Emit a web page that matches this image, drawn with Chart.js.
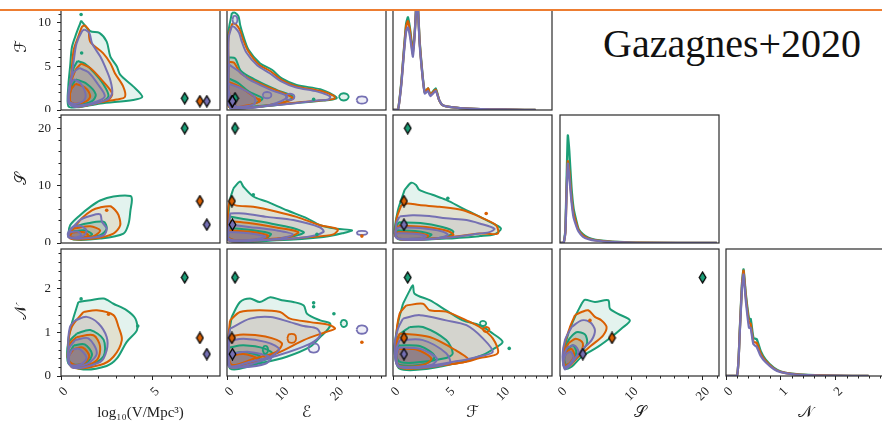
<!DOCTYPE html>
<html><head><meta charset="utf-8">
<script src="https://cdn.jsdelivr.net/npm/chart.js@4/dist/chart.umd.min.js"></script>
<style>
html,body{margin:0;padding:0;background:#fff;width:882px;height:422px;overflow:hidden;position:relative}
canvas{position:absolute;z-index:1}
#mask{position:absolute;left:0;top:0;width:882px;height:9px;background:#fff;z-index:5}
#bar{position:absolute;left:0;top:9px;width:882px;height:2px;background:#ED7D31;z-index:6}
#ttl{position:absolute;left:603px;top:24px;font-family:"Liberation Serif","DejaVu Serif",serif;font-size:40px;line-height:40px;color:#111;z-index:4;white-space:nowrap}
</style></head><body>
<div id="mask"></div><div id="bar"></div><div id="ttl">Gazagnes+2020</div>
<script>
// ---------------- data ----------------
const vTicks=[0,5], eTicks=[0,10,20], fTicks=[0,5,10], sTicks=[0,10,20], nTicks=[0,1,2];
const vMinor=[1,2,3,4,6,7,8], eMinor=[2,4,6,8,12,14,16,18,22,24,26,28];
const fMinor=[1,2,3,4,6,7,8,9,11,12,13,14], sMinor=[2,4,6,8,12,14,16,18,22];
const nMinor=[0.2,0.4,0.6,0.8,1.2,1.4,1.6,1.8,2.2,2.4,2.6,2.8];
// truth markers: [green, orange, purple]
const truthV=[6.77,7.6,7.98], truthE=[1.46,0.9,1.0], truthF=[1.34,1.0,1.0], truthS=[20.0,7.3,3.2], truthN=[2.25,0.87,0.5];

// contours, each colour: [outer, mid, inner] as flat x,y lists
const VF_green=[[1.1,10.2,1.6,9.0,2.1,8.8,2.5,7.8,2.7,6.1,3.05,5.0,3.25,4.0,3.95,2.7,4.45,1.5,3.95,1.15,2.15,0.75,0.85,0.3,0.4,0.45,0.4,2.7,0.5,5.0,0.6,7.2,0.85,8.8,1.05,9.9],
 [0.9,5.6,1.3,5.3,1.8,4.3,2.3,3.0,2.6,1.6,2.2,0.9,1.0,0.45,0.5,0.7,0.5,3.0,0.7,4.8],
 [0.8,3.5,1.4,3.0,1.9,1.8,1.7,1.0,0.9,0.6,0.5,1.0,0.55,2.5]];
const VF_orange=[[1.3,9.7,1.5,9.2,1.6,7.8,2.3,6.5,2.7,5.35,2.95,4.2,3.4,2.7,3.5,1.5,3.05,1.2,2.15,0.9,0.85,0.35,0.5,0.95,0.6,5.0,0.7,6.9,0.95,8.4,1.15,9.5],
 [1.1,5.3,1.6,4.8,2.2,3.5,2.8,1.9,2.6,1.2,1.0,0.45,0.5,0.8,0.55,3.0,0.8,4.6],
 [0.8,3.0,1.3,2.6,1.6,1.6,1.4,1.0,0.8,0.7,0.5,1.0,0.55,2.3]];
const VF_purple=[[1.3,9.2,1.55,8.8,1.7,7.6,2.15,6.1,2.4,5.0,2.7,3.4,2.8,1.9,2.5,1.15,0.85,0.35,0.4,0.8,0.5,2.7,0.7,5.7,0.85,7.6,1.15,9.0],
 [1.0,4.8,1.5,4.3,2.0,3.0,2.4,1.6,2.0,1.0,1.0,0.5,0.45,0.8,0.5,3.0,0.7,4.3],
 [0.7,3.5,1.0,3.2,1.3,2.2,1.3,1.2,0.8,0.7,0.45,1.0,0.45,2.6]];
const VF_dots=[[1.1,10.9,0],[1.13,6.5,0]];

const EF_green=[[0.9,11.1,1.5,11.1,2.1,10.7,2.4,9.7,3.0,8.4,3.9,6.9,6.0,5.35,8.2,4.6,10.0,3.6,12.7,2.86,17,2.37,19.4,1.7,20,1.34,17.6,1.07,12.1,0.77,6.0,0.38,0.55,0.19,0.24,5.0,0.24,8.8],
 [0.3,6.0,1.5,5.9,2.5,4.5,5,3.5,9,2.3,12,1.5,10,0.8,5,0.4,0.5,0.3,0.2,3],
 [0.3,3.6,2,3.1,4,2.1,6.5,1.3,4,0.5,0.5,0.3,0.2,1.5]];
const EF_orange=[[1.0,9.9,1.6,9.8,2.3,9.2,2.9,8.1,3.8,6.8,5.8,5.2,8.0,4.4,10.0,3.4,12.7,2.7,17,2.2,19.5,1.6,19.6,1.3,17.5,1.1,12,0.8,6,0.4,0.6,0.22,0.3,5.0,0.3,8.5],
 [0.3,5.5,1.3,5.4,2.5,4.2,6,3.0,10,2.0,12,1.3,8,0.6,2,0.3,0.2,2.5],
 [0.3,3.2,2.2,2.7,4.5,1.7,6,1.0,3,0.45,0.4,0.35,0.2,1.5]];
const EF_purple=[[0.9,9.6,1.5,9.4,2.2,8.8,2.7,7.8,3.5,6.6,5.5,5.1,7.8,4.2,9.8,3.3,12.5,2.6,16.5,2.1,18.8,1.55,18.5,1.2,16.8,1.1,12,0.75,6,0.4,0.6,0.22,0.3,5.0,0.3,8.2],
 [0.3,5.2,2,4.5,4,3.5,8,2.3,11,1.5,8,0.6,2,0.3,0.2,2.5],
 [0.3,3.0,2.5,2.5,5,1.5,5,0.7,2,0.35,0.2,0.6]];
const EF_rings=[[0,[20.4,1.5,20.8,1.85,21.8,1.85,22.2,1.5,21.8,1.15,20.8,1.15]],
 [2,[23.6,1.15,24.0,1.5,25.2,1.5,25.6,1.15,25.2,0.8,24.0,0.8]],
 [2,[1.0,10.3,1.2,10.7,1.7,10.7,1.9,10.3,1.7,9.9,1.2,9.9]],
 [2,[6.5,1.7,6.8,2.0,7.8,2.0,8.1,1.7,7.8,1.4,6.8,1.4]],
 [2,[10.7,1.5,11.0,1.8,12.0,1.8,12.3,1.5,12.0,1.2,11.0,1.2]]];
const EF_dots=[[15.8,1.22,0],[5.9,1.15,1]];

const VS_green=[[0.4,1.35,0.5,3.1,1.04,4.85,1.6,6.3,2.14,7.4,2.87,8.1,3.8,8.2,3.88,7.5,3.8,5.7,3.7,3.4,3.42,1.65,2.14,0.77,0.68,0.6],
 [0.68,2.8,1.4,3.4,2.33,3.7,2.5,2.5,2.14,1.35,0.68,0.8,0.4,1.5],
 [0.6,2.0,1.3,2.2,1.7,1.5,1.2,0.9,0.5,1.0]];
const VS_orange=[[0.59,2.2,1.14,4.3,1.69,5.7,2.14,6.2,2.7,6.4,2.97,5.7,3.15,4.85,3.24,3.1,2.87,1.65,1.78,0.77,0.5,0.77],
 [0.68,2.5,1.6,2.9,2.14,2.2,1.78,1.2,0.6,0.8,0.4,1.5],
 [0.6,1.8,1.2,1.9,1.5,1.3,1.0,0.9,0.5,1.1]];
const VS_purple=[[0.5,2.2,1.04,4.0,1.6,4.7,2.14,5.0,2.24,3.7,2.5,2.5,2.33,1.35,1.14,0.77,0.4,1.0],
 [0.6,2.8,1.04,3.0,1.4,2.2,1.2,1.2,0.5,0.9,0.37,1.6],
 [0.5,1.9,0.9,2.0,1.1,1.4,0.8,0.95,0.4,1.2]];
const VS_dots=[[2.5,5.7,1]];

const ES_green=[[1.16,9.5,2.4,10.7,3.0,9.8,4.8,8.1,7.3,7.2,10.9,5.7,14.6,4.3,17,3.1,20,2.5,22.8,2.2,21.3,1.75,17.6,1.05,9.1,0.47,0.55,0.35,0.24,3.4,0.55,7.5],
 [0.5,4.6,3,4.2,8,3.4,12,2.6,14,1.8,10,0.8,3,0.4,0.3,0.6,0.2,2.5],
 [0.4,2.6,4,2.3,8,1.6,7,0.8,2,0.45,0.2,1.0]];
const ES_orange=[[0.55,7.5,1.46,6.6,4.8,6.3,9.1,5.45,12.7,4.55,17,3.1,20.2,2.4,19.4,1.5,15.2,1.05,6.0,0.47,0.24,0.47,0.24,6.1],
 [0.5,3.8,4,3.5,9,2.7,13,1.9,11,1.0,4,0.5,0.3,0.6,0.2,2.0],
 [0.4,2.2,4,2.0,7.5,1.3,6,0.65,2,0.45,0.2,1.0]];
const ES_purple=[[0.55,5.15,3.0,5.15,7.3,4.55,12.1,4.0,17,2.7,17.6,1.93,14.6,1.05,6.0,0.47,0.24,0.47],
 [0.5,3.2,4,2.8,9,2.2,12,1.5,9,0.7,3,0.45,0.3,0.6,0.2,2.0],
 [0.4,1.9,4,1.7,7,1.1,5,0.6,1.5,0.45,0.2,0.9]];
const ES_rings=[[2,[23.6,1.75,24.0,2.05,25.2,2.05,25.6,1.75,25.2,1.45,24.0,1.45]]];
const ES_dots=[[16.4,1.5,0],[4.8,8.4,0],[24.6,1.2,1]];

const FS_green=[[1.06,9.25,1.67,10.5,2.1,10.1,2.4,9.25,3.6,8.4,4.85,7.5,6.4,6.0,7.9,4.6,9.1,3.4,9.85,2.5,9.25,1.5,7.9,1.2,4.85,0.77,0.6,0.6,0.15,1.65,0.45,5.7],
 [0.5,3.6,2.5,3.5,4.5,2.8,5.5,2.0,5,1.2,3,0.7,0.5,0.7,0.2,2],
 [0.4,2.2,2,2.1,3.5,1.5,3,0.9,0.5,0.75,0.2,1.4]];
const FS_orange=[[0.76,6.6,1.36,6.9,2.4,6.6,4.25,6.3,6.4,5.7,8.2,4.3,9.4,3.1,9.55,1.65,7.9,1.65,4.85,0.97,0.45,0.77,0.3,4.0],
 [0.5,3.0,3,2.8,5,2.1,5.5,1.4,4,0.8,0.5,0.7,0.2,2],
 [0.4,1.9,2,1.8,3.2,1.3,2.6,0.85,0.5,0.75,0.2,1.3]];
const FS_purple=[[0.6,4.6,1.8,4.85,3.3,4.7,4.85,4.3,6.7,4.0,7.9,3.4,9.25,2.5,8.8,1.9,7.3,1.5,4.85,0.9,0.45,0.77,0.3,3.4],
 [0.5,2.7,2.5,2.6,4.5,2.0,5,1.4,4,0.8,0.5,0.7,0.2,2],
 [0.4,1.7,2,1.6,3,1.2,2.5,0.85,0.5,0.75,0.2,1.2]];
const FS_dots=[[5.0,7.8,0],[8.5,5.15,1]];

const VN_green=[[0.95,1.69,1.6,1.73,2.33,1.77,2.87,1.65,3.6,1.5,4.07,1.31,4.16,1.05,3.6,0.78,3.06,0.4,2.5,0.23,1.22,0.15,0.4,0.29,0.4,0.82,0.59,1.2],
 [0.86,0.97,1.6,1.05,2.33,0.83,2.33,0.45,1.6,0.26,0.5,0.3,0.4,0.74],
 [0.7,0.7,1.3,0.72,1.7,0.5,1.4,0.3,0.6,0.27,0.4,0.45]];
const VN_orange=[[1.22,1.46,1.96,1.5,2.87,1.39,3.15,1.12,3.33,0.82,2.87,0.44,2.14,0.25,0.59,0.2,0.4,0.67,0.59,1.12],
 [0.86,0.89,1.78,0.93,2.14,0.67,1.96,0.36,1.04,0.22,0.4,0.36,0.5,0.74],
 [0.7,0.62,1.2,0.65,1.55,0.45,1.2,0.28,0.55,0.26,0.4,0.42]];
const VN_purple=[[0.77,1.27,1.4,1.35,2.05,1.2,2.5,0.89,2.5,0.59,2.14,0.32,0.59,0.2,0.4,0.67,0.49,1.12],
 [0.77,0.82,1.5,0.86,1.96,0.52,1.4,0.27,0.5,0.25,0.4,0.59],
 [0.6,0.6,1.0,0.62,1.4,0.42,1.1,0.27,0.5,0.25,0.4,0.4]];
const VN_dots=[[1.1,1.76,0],[2.6,1.41,1],[4.2,1.14,0]];

const EN_green=[[0.86,1.35,2.38,1.69,4.2,1.77,6.0,1.69,7.9,1.8,10.0,1.73,12.1,1.69,14,1.61,14.6,1.42,17,1.27,18.8,1.2,18.5,1.08,17,0.89,15.2,0.67,10.9,0.44,6.0,0.29,0.55,0.17,0.24,0.82],
 [0.4,0.65,3,0.7,7,0.62,8.5,0.48,6,0.33,2,0.22,0.3,0.3],
 [0.4,0.5,3,0.55,6,0.45,5,0.3,2,0.2,0.3,0.25]];
const EN_orange=[[0.55,1.27,2.38,1.46,6.0,1.5,9.7,1.46,11.5,1.31,15.2,1.23,18.8,1.16,19.7,1.08,17.9,1.0,14,0.82,9.1,0.52,0.55,0.2,0.24,0.82],
 [0.4,0.9,3,0.95,7,0.9,10,0.75,9,0.55,5,0.4,1,0.25,0.3,0.45],
 [0.4,0.45,3,0.5,5.5,0.4,4.5,0.28,1.5,0.2,0.3,0.25]];
const EN_purple=[[0.55,1.08,4.2,1.31,7.9,1.35,11.5,1.23,14,1.14,16.4,1.08,17,0.93,15.2,0.74,9.5,0.48,0.55,0.2,0.24,0.74],
 [0.4,0.8,3,0.85,7,0.78,9.5,0.62,8,0.45,4,0.32,0.8,0.22,0.3,0.4],
 [0.4,0.5,4,0.55,8,0.42,7,0.28,3,0.2,0.3,0.22]];
const EN_rings=[[1,[11.0,0.86,11.3,0.95,12.3,0.95,12.6,0.86,12.3,0.77,11.3,0.77]],
 [2,[23.6,1.06,24.0,1.14,25.2,1.14,25.6,1.06,25.2,0.98,24.0,0.98]],
 [0,[20.7,1.2,21.0,1.27,21.6,1.27,21.9,1.2,21.6,1.13,21.0,1.13]],
 [2,[14.8,0.64,15.2,0.73,16.4,0.73,16.8,0.64,16.4,0.55,15.2,0.55]],
 [0,[6.5,0.6,6.75,0.68,7.25,0.68,7.5,0.6,7.25,0.52,6.75,0.52]]];
const EN_dots=[[24.6,0.77,1],[15.8,1.67,0],[15.8,1.58,0],[19.5,1.42,0]];

const FN_green=[[0.91,1.65,1.52,1.95,1.82,2.07,1.97,1.88,3.34,1.73,4.85,1.5,6.36,1.27,7.9,1.16,9.1,0.97,10.0,0.78,9.25,0.63,8.2,0.48,6.36,0.33,3.34,0.17,0.6,0.17,0.15,0.59,0.45,1.2],
 [1.52,1.12,2.73,1.12,4.85,0.82,5.45,0.52,4.85,0.41,1.8,0.3,0.45,0.36,0.45,0.89],
 [0.5,0.7,2.5,0.68,3.8,0.45,3,0.28,0.6,0.25,0.3,0.45]];
const FN_orange=[[1.21,1.61,2.73,1.65,3.34,1.5,4.85,1.47,6.7,1.27,7.9,1.12,9.1,0.86,9.55,0.52,7.9,0.41,6.36,0.31,0.6,0.2,0.3,0.82,0.6,1.42],
 [0.6,0.97,3.34,0.89,5.7,0.59,6.9,0.36,4.85,0.26,0.6,0.2,0.3,0.67],
 [0.5,0.62,2.2,0.6,3.5,0.4,2.8,0.26,0.6,0.23,0.3,0.42]];
const FN_purple=[[0.91,1.31,2.43,1.39,4.85,1.27,6.7,1.16,8.2,0.86,9.1,0.55,7.9,0.45,6.36,0.36,0.6,0.2,0.15,0.67,0.45,1.08],
 [0.6,0.82,2.73,0.82,4.85,0.52,5.15,0.29,0.6,0.21,0.3,0.59],
 [0.5,0.65,2.5,0.62,4,0.4,3.5,0.25,0.6,0.22,0.3,0.4]];
const FN_rings=[[1,[8.2,1.06,8.35,1.11,8.65,1.11,8.8,1.06,8.65,1.01,8.35,1.01]],
 [0,[7.9,1.2,8.05,1.25,8.35,1.25,8.5,1.2,8.35,1.15,8.05,1.15]]];
const FN_dots=[[10.6,0.63,0]];

const SN_green=[[3.03,1.65,3.5,1.74,4.9,1.69,6.76,1.73,7.0,1.54,8.15,1.42,9.8,1.27,8.6,1.08,7.2,0.89,5.36,0.67,3.03,0.44,1.63,0.21,0.7,0.17,0.47,0.52,1.17,0.97,2.1,1.35],
 [1.3,0.85,2.3,1.0,3.5,0.95,3.8,0.75,3,0.55,1.6,0.3,0.6,0.25,0.6,0.6],
 [1.0,0.6,1.8,0.7,2.3,0.55,1.8,0.35,0.9,0.25,0.6,0.4]];
const SN_orange=[[2.1,1.39,3.03,1.46,3.96,1.5,4.9,1.35,5.83,1.27,6.53,1.12,6.06,0.93,4.43,0.7,2.56,0.44,1.17,0.21,0.47,0.3,0.7,0.74,1.4,1.12],
 [1.2,0.75,2.2,0.85,3.2,0.75,2.8,0.5,1.5,0.3,0.6,0.22,0.5,0.5],
 [0.9,0.55,1.6,0.62,2.0,0.48,1.5,0.32,0.8,0.24,0.55,0.38]];
const SN_purple=[[1.63,1.12,3.03,1.27,4.2,1.23,4.9,1.05,4.43,0.82,3.03,0.59,1.63,0.29,0.7,0.15,0.35,0.44,0.7,0.82],
 [1.0,0.65,2.0,0.7,2.6,0.55,2.0,0.38,1.2,0.25,0.6,0.2,0.5,0.45],
 [0.8,0.5,1.5,0.55,1.9,0.42,1.4,0.28,0.7,0.2,0.5,0.35]];
const SN_dots=[[4.2,1.27,1]];

// 1D marginal histograms (height as fraction of panel)
const F_hist_x=[0,0.45,0.76,1.0,1.2,1.36,1.55,1.82,2.0,2.2,2.43,2.7,2.9,3.2,3.4,3.9,4.2,4.5,5.5,7,9,11,13];
const F_hist_green=[0,0,0.22,0.48,0.68,0.73,0.64,0.46,0.64,0.92,0.54,0.27,0.14,0.17,0.12,0.17,0.08,0.04,0.02,0.01,0.005,0.003,0];
const F_hist_orange=[0,0,0.21,0.47,0.66,0.70,0.62,0.44,0.63,0.92,0.53,0.26,0.14,0.17,0.12,0.16,0.08,0.04,0.02,0.01,0.005,0.003,0];
const F_hist_purple=[0,0,0.2,0.45,0.62,0.65,0.58,0.42,0.62,0.92,0.52,0.26,0.13,0.15,0.11,0.15,0.08,0.04,0.02,0.01,0.005,0.003,0];
const S_hist_x=[0,0.5,0.75,0.95,1.1,1.3,1.6,1.9,2.3,2.6,3.2,4,5,7,9,11,22];
const S_hist_green=[0,0,0.1,0.55,0.84,0.72,0.44,0.27,0.17,0.11,0.07,0.04,0.025,0.012,0.006,0.002,0];
const S_hist_orange=[0,0,0.08,0.45,0.64,0.56,0.36,0.23,0.15,0.1,0.06,0.035,0.02,0.01,0.005,0.002,0];
const S_hist_purple=[0,0,0.08,0.44,0.62,0.52,0.33,0.2,0.13,0.09,0.05,0.03,0.018,0.008,0.004,0.001,0];
const N_hist_x=[0,0.2,0.25,0.29,0.32,0.36,0.42,0.45,0.5,0.56,0.63,0.72,0.87,1.0,1.2,1.5,2.0,2.6];
const N_hist_green=[0,0,0.35,0.72,0.84,0.65,0.45,0.45,0.3,0.29,0.2,0.13,0.065,0.035,0.018,0.008,0.003,0];
const N_hist_orange=[0,0,0.34,0.7,0.83,0.63,0.42,0.41,0.27,0.26,0.18,0.12,0.06,0.032,0.016,0.007,0.002,0];
const N_hist_purple=[0,0,0.33,0.68,0.8,0.6,0.38,0.38,0.25,0.23,0.16,0.11,0.055,0.03,0.015,0.006,0.002,0];

// ---------------- styling / layout ----------------
const COLORS=['#1b9e77','#d95f02','#7570b3'];
const SERIF="'Liberation Serif','DejaVu Serif',serif";
const MATH="'DejaVu Serif','DejaVu Sans',serif";
const COLS=[61,227,393,560,726], PW=159;
const ROWS=[[-17,110],[115,243],[249,376]];
const AX={
 V:{min:0,max:8.7,ticks:vTicks,minor:vMinor,title:'log₁₀(V/Mpc³)',fam:SERIF,size:15},
 E:{min:0,max:29,ticks:eTicks,minor:eMinor,title:'ℰ',fam:MATH,size:16},
 F:{min:0,max:14.5,ticks:fTicks,minor:fMinor,title:'ℱ',fam:MATH,size:16},
 S:{min:0,max:22.3,ticks:sTicks,minor:sMinor,title:'𝒮',fam:MATH,size:16},
 N:{min:0,max:2.9,ticks:nTicks,minor:nMinor,title:'𝒩',fam:MATH,size:16}
};
function rgba(hex,a){const n=parseInt(hex.slice(1),16);return `rgba(${n>>16},${(n>>8)&255},${n&255},${a})`;}
function toPts(flat){const p=[];for(let i=0;i<flat.length;i+=2)p.push({x:flat[i],y:flat[i+1]});return p;}
function diamond(color){const c=document.createElement('canvas');c.width=9;c.height=13;const g=c.getContext('2d');
 g.beginPath();g.moveTo(4.5,1);g.lineTo(7.8,6.5);g.lineTo(4.5,12);g.lineTo(1.2,6.5);g.closePath();
 g.fillStyle=color;g.fill();g.lineWidth=1.3;g.strokeStyle='#000';g.stroke();return c;}
const DIAMONDS=COLORS.map(diamond);

const framePlugin={id:'frame',afterDraw(chart,args,opts){
 const {ctx,chartArea:a}=chart;ctx.save();ctx.strokeStyle='#222';ctx.lineWidth=1;
 if(opts.minorX){const s=chart.scales.x;opts.minorX.forEach(v=>{const p=Math.round(s.getPixelForValue(v))+0.5;ctx.beginPath();ctx.moveTo(p,a.bottom);ctx.lineTo(p,a.bottom+2.5);ctx.stroke();});}
 if(opts.minorY){const s=chart.scales.y;opts.minorY.forEach(v=>{const p=Math.round(s.getPixelForValue(v))+0.5;ctx.beginPath();ctx.moveTo(a.left,p);ctx.lineTo(a.left-2.5,p);ctx.stroke();});}
 ctx.strokeStyle='#2a2a2a';ctx.lineWidth=1.2;ctx.strokeRect(a.left,a.top,a.right-a.left,a.bottom-a.top);ctx.restore();}};

function scaleCfg(key,axis,show,size,hist){
 if(hist) return {type:'linear',display:false,min:0,max:1};
 const a=AX[key];
 const cfg={type:'linear',min:a.min,max:a.max,display:show,
  afterBuildTicks:s=>{s.ticks=a.ticks.map(v=>({value:v}));},
  grid:{display:show,drawOnChartArea:false,drawTicks:true,tickLength:4,color:'#222',tickWidth:1},
  border:{display:false},
  ticks:{autoSkip:false,color:'#222',font:{family:SERIF,size:13},padding:axis==='x'?4:6,
   maxRotation:axis==='x'?45:0,minRotation:axis==='x'?45:0,labelOffset:axis==='x'?5:0},
  title:{display:show,text:a.title,color:'#222',font:{family:a.fam,size:a.size},padding:axis==='x'?{top:0,bottom:0}:{top:12,bottom:0}}};
 if(show){cfg.afterFit=s=>{if(axis==='x')s.height=size;else s.width=size;s.paddingLeft=0;s.paddingRight=0;s.paddingTop=0;s.paddingBottom=0;};}
 return cfg;
}
const LEVEL_ALPHA=[0.12,0.2,0.32];
function buildSets(p){
 const ds=[];
 if(p.hist){
  p.hist.slice(1).forEach((ys,ci)=>ds.push({data:p.hist[0].map((x,i)=>({x,y:ys[i]})),showLine:true,borderColor:COLORS[ci],borderWidth:2.3,pointRadius:0,fill:false,tension:0.15,borderJoinStyle:'round'}));
 } else {
  p.sets.forEach((lv,ci)=>lv.forEach((flat,li)=>{const pts=toPts(flat);pts.push({x:pts[0].x,y:pts[0].y});
   ds.push({data:pts,showLine:true,fill:'shape',backgroundColor:rgba(COLORS[ci],LEVEL_ALPHA[li]),borderColor:COLORS[ci],borderWidth:2,pointRadius:0,tension:0.3,borderJoinStyle:'round'});}));
  (p.rings||[]).forEach(([ci,flat])=>{const pts=toPts(flat);pts.push({x:pts[0].x,y:pts[0].y});
   ds.push({data:pts,showLine:true,fill:'shape',backgroundColor:rgba(COLORS[ci],0.12),borderColor:COLORS[ci],borderWidth:1.8,pointRadius:0,tension:0.3});});
  (p.dots||[]).forEach(([x,y,ci])=>ds.push({data:[{x,y}],showLine:false,pointRadius:1.8,pointBackgroundColor:COLORS[ci],pointBorderWidth:0}));
  ds.push({data:p.tx.map((x,i)=>({x,y:p.ty[i]})),showLine:false,pointRadius:5,pointStyle:DIAMONDS});
 }
 return ds.reverse();
}
const PANELS=[
 {c:0,r:0,x:'V',y:'F',sets:[VF_green,VF_orange,VF_purple],dots:VF_dots,tx:truthV,ty:truthF},
 {c:1,r:0,x:'E',y:'F',sets:[EF_green,EF_orange,EF_purple],rings:EF_rings,dots:EF_dots,tx:truthE,ty:truthF},
 {c:2,r:0,x:'F',hist:[F_hist_x,F_hist_green,F_hist_orange,F_hist_purple]},
 {c:0,r:1,x:'V',y:'S',sets:[VS_green,VS_orange,VS_purple],dots:VS_dots,tx:truthV,ty:truthS},
 {c:1,r:1,x:'E',y:'S',sets:[ES_green,ES_orange,ES_purple],rings:ES_rings,dots:ES_dots,tx:truthE,ty:truthS},
 {c:2,r:1,x:'F',y:'S',sets:[FS_green,FS_orange,FS_purple],dots:FS_dots,tx:truthF,ty:truthS},
 {c:3,r:1,x:'S',hist:[S_hist_x,S_hist_green,S_hist_orange,S_hist_purple]},
 {c:0,r:2,x:'V',y:'N',sets:[VN_green,VN_orange,VN_purple],dots:VN_dots,tx:truthV,ty:truthN},
 {c:1,r:2,x:'E',y:'N',sets:[EN_green,EN_orange,EN_purple],rings:EN_rings,dots:EN_dots,tx:truthE,ty:truthN},
 {c:2,r:2,x:'F',y:'N',sets:[FN_green,FN_orange,FN_purple],rings:FN_rings,dots:FN_dots,tx:truthF,ty:truthN},
 {c:3,r:2,x:'S',y:'N',sets:[SN_green,SN_orange,SN_purple],dots:SN_dots,tx:truthS,ty:truthN},
 {c:4,r:2,x:'N',hist:[N_hist_x,N_hist_green,N_hist_orange,N_hist_purple]}
];
PANELS.forEach(p=>{
 const showX=p.r===2, showY=p.c===0 && !p.hist;
 const left=COLS[p.c], top=ROWS[p.r][0], h=ROWS[p.r][1]-top;
 const padB=showX?422-ROWS[p.r][1]:2;
 const cx=showY?0:left-2, cy=top-2;
 const cw=showY?left+PW+2:PW+4, ch=h+2+padB;
 const cv=document.createElement('canvas');cv.width=cw;cv.height=ch;
 cv.style.left=cx+'px';cv.style.top=cy+'px';cv.style.width=cw+'px';cv.style.height=ch+'px';
 document.body.appendChild(cv);
 new Chart(cv,{type:'scatter',data:{datasets:buildSets(p)},
  options:{responsive:false,animation:false,devicePixelRatio:1,events:[],
   layout:{autoPadding:false,padding:{left:showY?0:2,top:2,right:2,bottom:showX?0:2}},
   scales:{x:scaleCfg(p.x,'x',showX,padB,false),y:scaleCfg(p.y,'y',showY,left,!!p.hist)},
   plugins:{legend:{display:false},tooltip:{enabled:false},filler:{drawTime:'beforeDatasetsDraw'},
    frame:{minorX:showX?AX[p.x].minor:null,minorY:showY?AX[p.y].minor:null}}},
  plugins:[framePlugin]});
});
</script>
</body></html>
